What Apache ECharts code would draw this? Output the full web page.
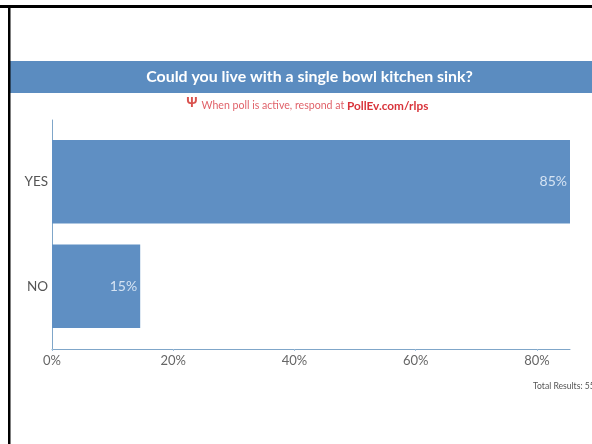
<!DOCTYPE html>
<html><head><meta charset="utf-8">
<style>html,body{margin:0;padding:0;background:#fff;overflow:hidden}#c{width:592px;height:444px;filter:blur(0.6px)}</style>
<script src="https://cdn.jsdelivr.net/npm/echarts@6/dist/echarts.min.js"></script>
</head><body><div id="c"></div>
<script>
const titleText = 'Could you live with a single bowl kitchen sink?';
const subtitleLead = 'When poll is active, respond at ';
const subtitleLink = 'PollEv.com/rlps';
const totalText = 'Total Results: 55';
const categories = ['YES', 'NO'];
const shares = [85.45, 14.55];
const shareLabels = ['85%', '15%'];
const axisMax = 85.45;
const BLUE = '#5f8fc3', FONT = 'Lato,"Noto Sans",sans-serif';
const chart = echarts.init(document.getElementById('c'), null, {renderer: 'canvas'});
chart.setOption({
  animation: false,
  backgroundColor: '#fff',
  textStyle: {fontFamily: FONT},
  grid: [
    {left: 52, right: 22, top: 129.5, bottom: 105.5},
    {left: 52, right: 22, top: 120, bottom: 95}
  ],
  xAxis: [
    {gridIndex: 0, type: 'value', min: 0, max: axisMax, show: false},
    {gridIndex: 1, type: 'value', min: 0, max: axisMax, interval: 20, splitLine: {show: false},
     axisLine: {show: true, lineStyle: {color: '#7fa6c9', width: 1}},
     axisTick: {show: true, length: 2, lineStyle: {color: '#9fbcd6'}},
     axisLabel: {show: true, formatter: '{value}%', color: '#666', fontSize: 13, margin: 5, showMaxLabel: false, fontFamily: FONT}}
  ],
  yAxis: [
    {gridIndex: 0, type: 'category', inverse: true, data: categories,
     axisLine: {show: false}, axisTick: {show: false},
     axisLabel: {color: '#555', fontSize: 13.5, margin: 4, padding: [3, 0, 0, 0], fontFamily: FONT}},
    {gridIndex: 1, type: 'value', min: 0, max: 1,
     axisLine: {show: true, lineStyle: {color: '#7fa6c9', width: 1}},
     axisTick: {show: false}, axisLabel: {show: false}, splitLine: {show: false}}
  ],
  series: [{
    type: 'bar', xAxisIndex: 0, yAxisIndex: 0, data: shares, barWidth: 83.5,
    itemStyle: {color: BLUE},
    label: {show: true, position: 'insideRight', distance: 3, color: '#d5e3f3', fontSize: 14, fontFamily: FONT,
      formatter: p => shareLabels[p.dataIndex]}
  }],
  graphic: [
    {type: 'rect', z: -1, shape: {x: 9, y: 61, width: 583, height: 32}, style: {fill: '#5b8cc0'}},
    {type: 'rect', shape: {x: 0, y: 5, width: 592, height: 3}, style: {fill: '#000'}},
    {type: 'rect', shape: {x: 8, y: 5, width: 2.5, height: 439}, style: {fill: '#000'}},
    {type: 'text', style: {x: 309.5, y: 77, text: titleText, align: 'center', verticalAlign: 'middle',
      fill: '#fff', font: 'bold 15.9px ' + FONT}},
    {type: 'text', style: {x: 192, y: 103, text: 'Ψ', align: 'center', verticalAlign: 'middle',
      fill: '#d9534f', font: 'bold 14px "Noto Sans"'}},
    {type: 'text', style: {x: 201.5, y: 106, text: '{a|' + subtitleLead + '}{b|' + subtitleLink + '}', verticalAlign: 'middle',
      rich: {a: {fill: '#e0626a', font: '10.6px ' + FONT}, b: {fill: '#d8333a', font: 'bold 11.8px ' + FONT}}}},
    {type: 'text', style: {x: 533, y: 386, text: totalText, verticalAlign: 'middle', fill: '#555', font: '8.6px ' + FONT}}
  ]
});
</script></body></html>
